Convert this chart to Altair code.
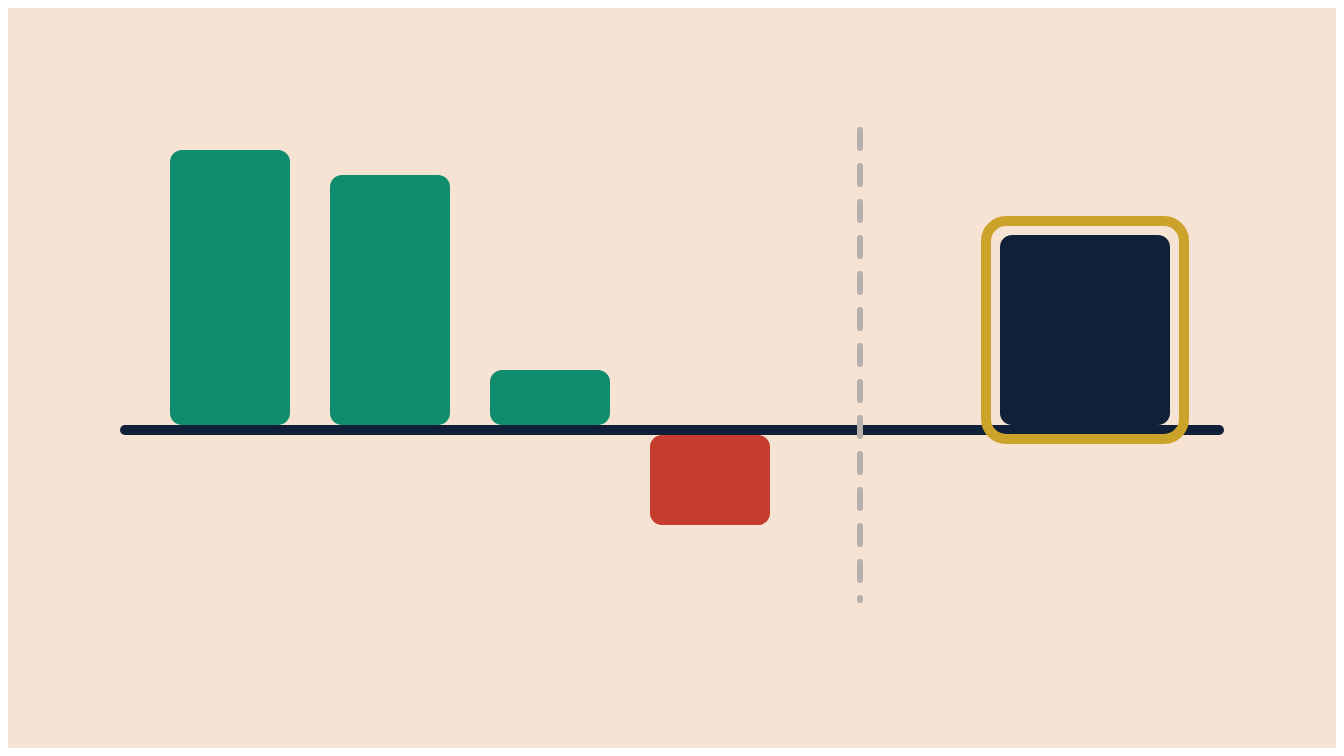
import altair as alt
import pandas as pd

# --- data ---
categories = ["A", "B", "C", "D"]
slots = [0, 1, 2, 3]
values = [5.6, 5.1, 1.2, -1.9]
total_label = "Total"
total_slot = 5.34375
total_value = 3.9
divider_slot = 3.9375
divider_top = 6.0
divider_bottom = -3.4
baseline_start = -0.65625
baseline_end = 6.18125

BG = "#F7E3D4"
GREEN = "#0F8B6E"
RED = "#C43C2E"
NAVY = "#112039"
GOLD = "#CBA22A"
GRAY = "#B7AFAB"

bars = pd.DataFrame({"cat": categories, "slot": slots, "value": values, "zero": [0] * 4})
pos = bars[bars.value > 0]
neg = bars[bars.value < 0]
total = pd.DataFrame({"cat": [total_label], "slot": [total_slot], "value": [total_value], "zero": [0]})
divider = pd.DataFrame({"x": [divider_slot], "y": [divider_top], "y2": [divider_bottom]})
baseline = pd.DataFrame({"x": [baseline_start], "x2": [baseline_end], "y": [0]})

xs = alt.Scale(domain=[-1.3875, 6.9125], nice=False, zero=False, padding=0)
ys = alt.Scale(domain=[-6.36, 8.44], nice=False, zero=False, padding=0)
X = lambda f: alt.X(f, type="quantitative", scale=xs, axis=None)
Y = lambda f: alt.Y(f, type="quantitative", scale=ys, axis=None)

pos_bars = alt.Chart(pos).mark_bar(
    width=120, cornerRadius=12, color=GREEN, y2Offset=-5
).encode(x=X("slot"), y=Y("value"), y2="zero")

neg_bars = alt.Chart(neg).mark_bar(
    width=120, cornerRadius=12, color=RED, y2Offset=5
).encode(x=X("slot"), y=Y("value"), y2="zero")

total_bar = alt.Chart(total).mark_bar(
    width=170, cornerRadius=12, color=NAVY, y2Offset=-5
).encode(x=X("slot"), y=Y("value"), y2="zero")

base_rule = alt.Chart(baseline).mark_rule(
    color=NAVY, strokeWidth=10, strokeCap="round"
).encode(x=X("x"), x2="x2", y=Y("y"))

div_rule = alt.Chart(divider).mark_rule(
    color=GRAY, strokeWidth=6, strokeCap="round", strokeDash=[18, 18]
).encode(x=X("x"), y=Y("y"), y2="y2")

highlight = alt.Chart(total).mark_bar(
    width=198, cornerRadius=20, filled=False, stroke=GOLD, strokeWidth=10,
    yOffset=-14, y2Offset=9
).encode(x=X("slot"), y=Y("value"), y2="zero")

chart = alt.layer(pos_bars, neg_bars, total_bar, base_rule, div_rule, highlight).properties(
    width=1328, height=740, background=BG, padding=0,
    autosize=alt.AutoSizeParams(type="none")
).configure_view(stroke=None)

chart.save("out.html", embed_options={"renderer": "svg", "actions": False})
